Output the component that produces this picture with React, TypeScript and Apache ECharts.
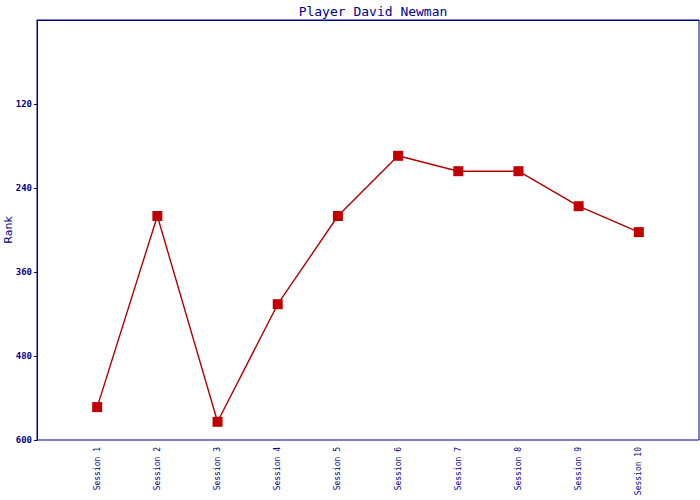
import React, { useEffect, useRef } from "react";
import * as echarts from "echarts";

const categories = ["Session 1", "Session 2", "Session 3", "Session 4", "Session 5", "Session 6", "Session 7", "Session 8", "Session 9", "Session 10"];
const ranks = [553, 280, 574, 406, 280, 194, 216, 216, 266, 303];
const yTicks = { min: 0, max: 600, interval: 120 };
const titleText = "Player David Newman";
const yName = "Rank";

const NAVY = "#000088";

export default function App() {
  const ref = useRef<HTMLDivElement>(null);
  useEffect(() => {
    if (!ref.current) return;
    const chart = echarts.init(ref.current, null, { renderer: "svg" });
    const axisCats = ["", ...categories, ""];
    chart.setOption({
      animation: false,
      backgroundColor: "#ffffff",
      title: {
        text: titleText,
        left: 368,
        textAlign: "center",
        top: 0,
        textStyle: { color: NAVY, fontFamily: "DejaVu Sans Mono", fontSize: 13, fontWeight: "normal" },
      },
      grid: { left: 37, right: 1, top: 20, bottom: 60, show: true, borderColor: NAVY, borderWidth: 1, backgroundColor: "transparent", containLabel: false, outerBoundsMode: "none" },
      xAxis: {
        type: "category",
        data: axisCats,
        boundaryGap: false,
        axisLine: { show: true, lineStyle: { color: NAVY, width: 1 } },
        axisTick: { show: false },
        splitLine: { show: false },
        axisLabel: { rotate: 90, margin: 7, color: NAVY, fontFamily: "DejaVu Sans Mono", fontSize: 8, interval: 0 },
      },
      yAxis: {
        type: "value",
        inverse: true,
        min: yTicks.min,
        max: yTicks.max,
        interval: yTicks.interval,
        name: yName,
        nameLocation: "middle",
        nameGap: 23,
        nameMoveOverlap: false,
        nameTextStyle: { color: NAVY, fontFamily: "DejaVu Sans", fontSize: 11 },
        axisLine: { show: true, lineStyle: { color: NAVY, width: 1 } },
        axisTick: { show: true, length: 3, lineStyle: { color: NAVY } },
        splitLine: { show: false },
        axisLabel: { showMinLabel: false, margin: 5, color: NAVY, fontFamily: "DejaVu Sans Mono", fontSize: 9, fontWeight: "bold" },
      },
      series: [
        {
          type: "line",
          data: categories.map((c, i) => [c, ranks[i]]),
          symbol: "rect",
          symbolSize: 10,
          lineStyle: { color: "#b00000", width: 1.4 },
          itemStyle: { color: "#c00000" },
        },
      ],
    });
    return () => chart.dispose();
  }, []);
  return <div ref={ref} style={{ width: 700, height: 500, position: "absolute", left: 0, top: 0 }} />;
}
